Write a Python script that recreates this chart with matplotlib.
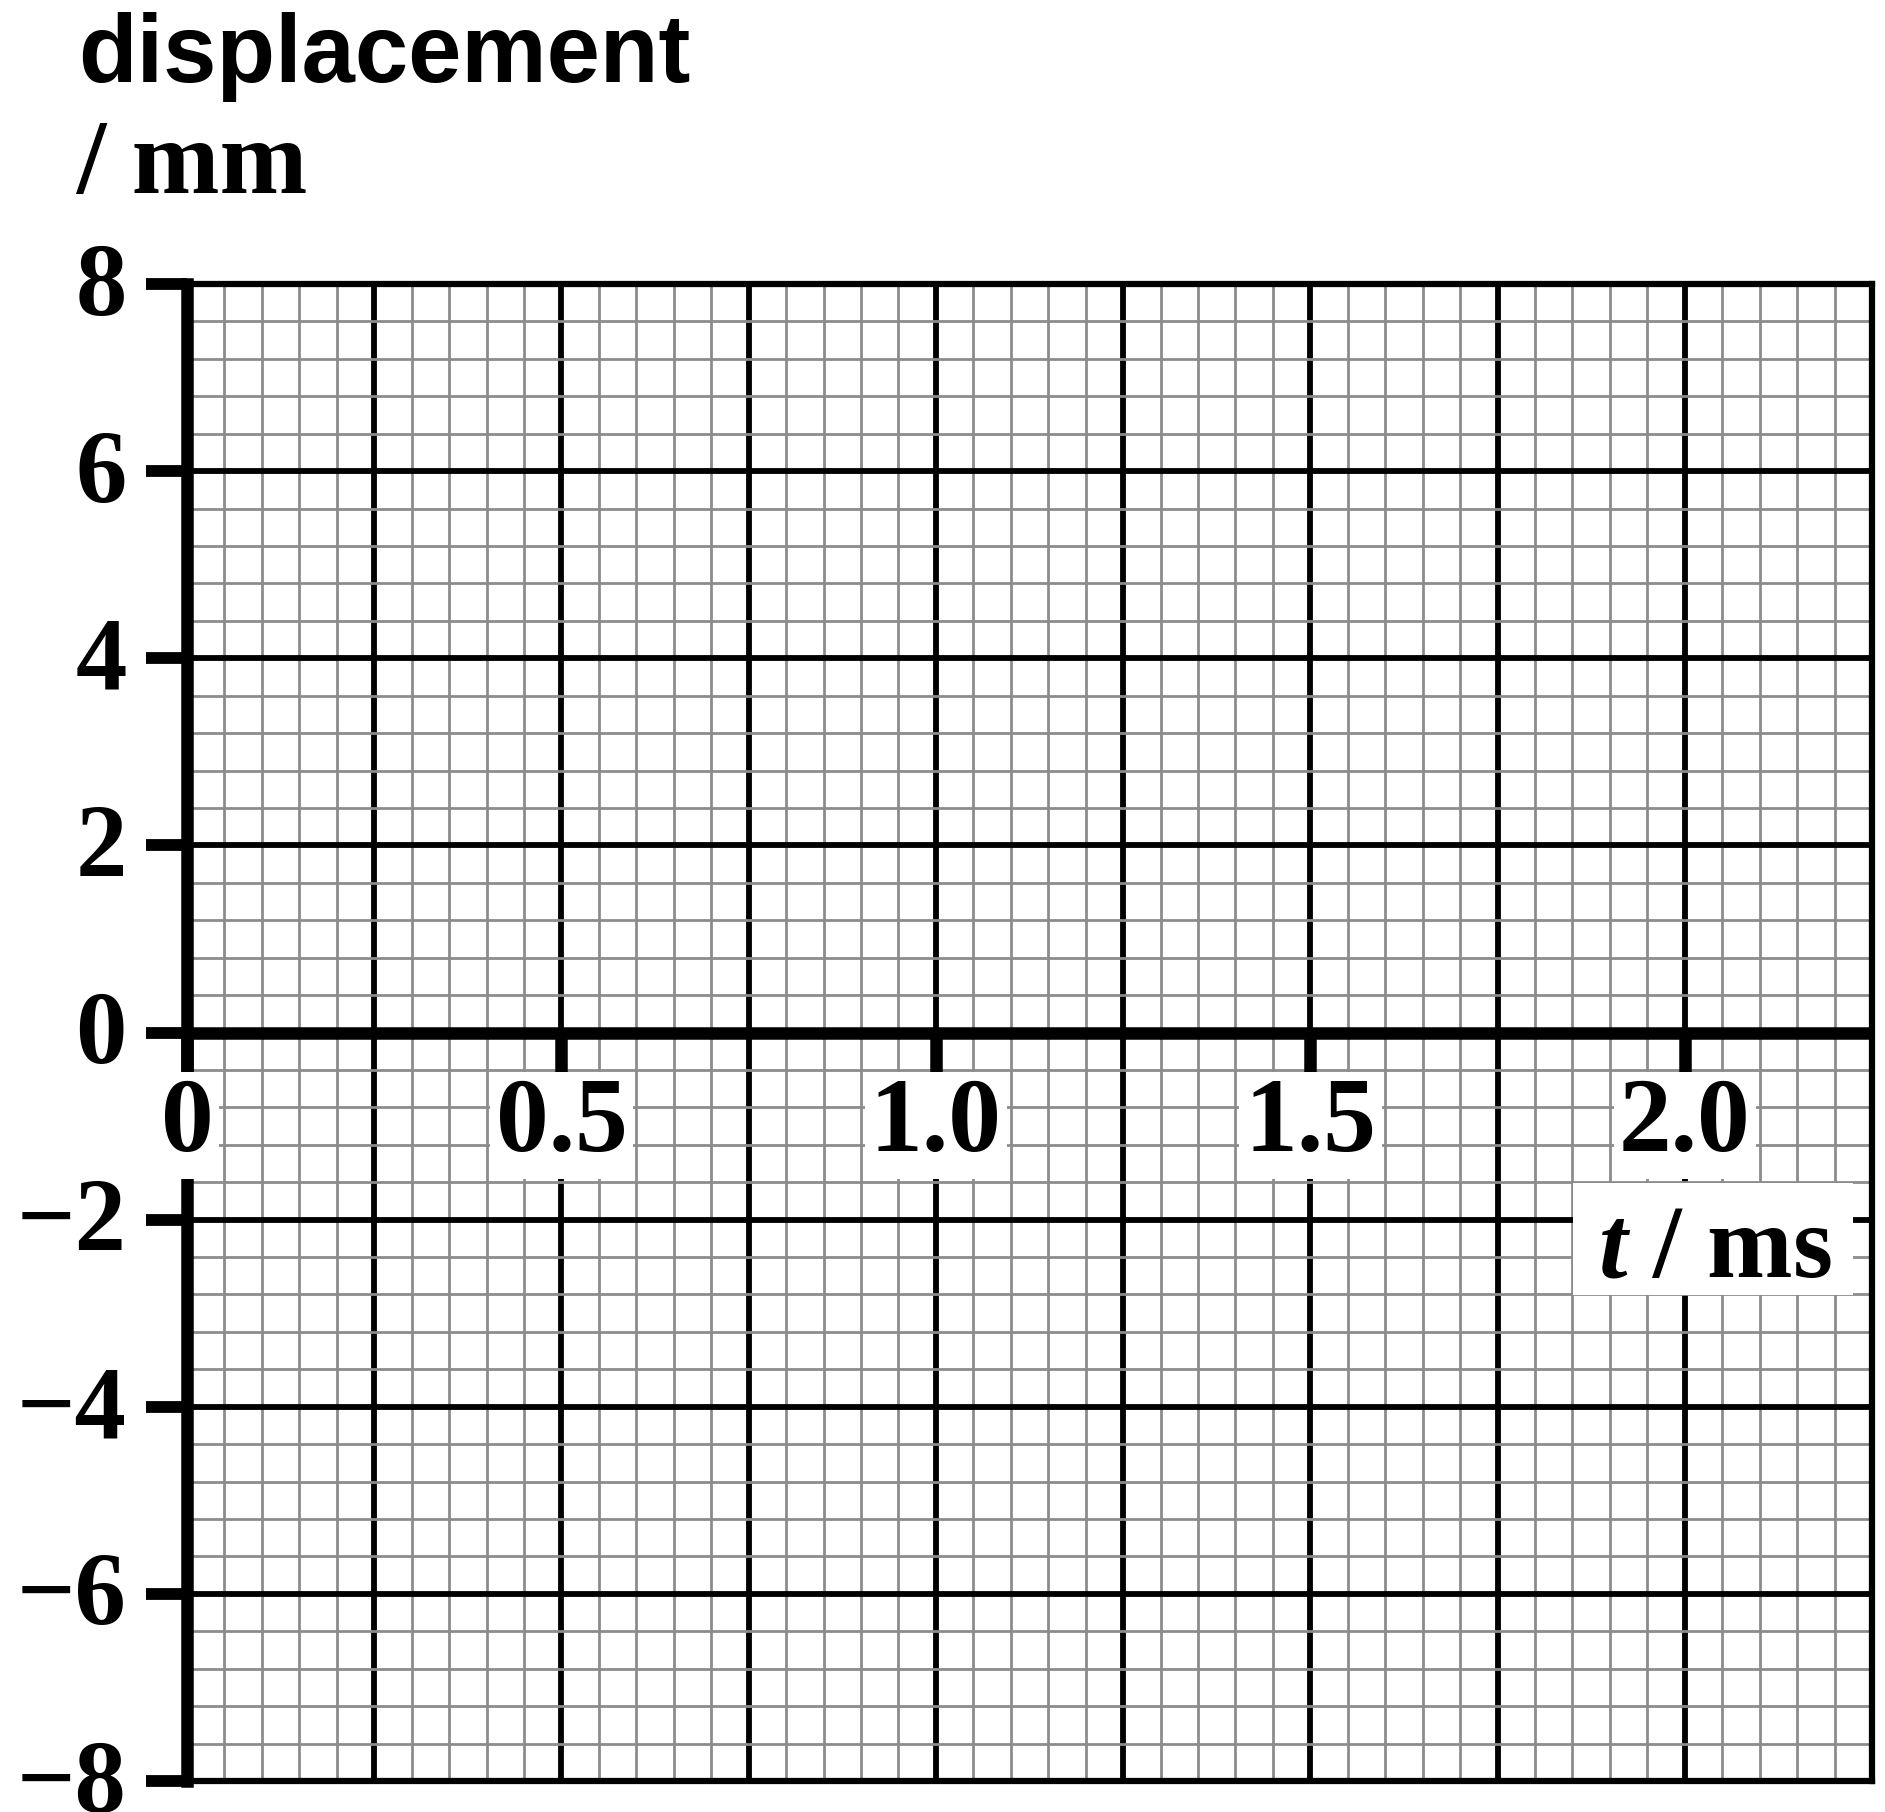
import matplotlib
matplotlib.use("Agg")
import matplotlib.pyplot as plt
import matplotlib.transforms as mtransforms
from matplotlib.patches import Rectangle
from matplotlib.ticker import MultipleLocator

# Axis values
x_ticks = [0, 0.5, 1.0, 1.5, 2.0]
x_labels = ['0', '0.5', '1.0', '1.5', '2.0']
y_ticks = [-8, -6, -4, -2, 0, 2, 4, 6, 8]
y_labels = ['\u22128', '\u22126', '\u22124', '\u22122', '0', '2', '4', '6', '8']
x_range = (0, 2.25)
y_range = (-8, 8)

plt.rcParams['mathtext.fontset'] = 'custom'
plt.rcParams['mathtext.rm'] = 'Liberation Serif:bold'
plt.rcParams['mathtext.it'] = 'Liberation Serif:italic:bold'
plt.rcParams['mathtext.bf'] = 'Liberation Serif:bold'

W, H = 1885, 1812
fig = plt.figure(figsize=(W / 100, H / 100), dpi=100)

# axes box in pixels: left 187, right 1872, top 284, bottom 1781
ax = fig.add_axes([187 / W, 1 - 1781 / H, (1872 - 187) / W, (1781 - 284) / H])
ax.set_xlim(*x_range)
ax.set_ylim(*y_range)

# graph paper grid
ax.xaxis.set_major_locator(MultipleLocator(0.25))
ax.xaxis.set_minor_locator(MultipleLocator(0.05))
ax.set_yticks(y_ticks, y_labels)
ax.yaxis.set_minor_locator(MultipleLocator(0.4))
ax.set_axisbelow(True)
ax.grid(which='minor', color='#8c8c8c', lw=2.0)
ax.grid(which='major', color='black', lw=4.2)

ax.tick_params(axis='x', which='both', length=0, labelbottom=False)
ax.tick_params(axis='y', which='minor', length=0)
ax.tick_params(axis='y', which='major', length=29.5, width=8.5, pad=14,
               direction='out', color='black')
shift = mtransforms.ScaledTranslation(0, -4 / 72, fig.dpi_scale_trans)
for lbl in ax.get_yticklabels():
    lbl.set_fontfamily('Liberation Serif')
    lbl.set_fontweight('bold')
    lbl.set_fontsize(74)
    lbl.set_verticalalignment('center')
    lbl.set_transform(lbl.get_transform() + shift)

for side in ['top', 'right', 'bottom']:
    ax.spines[side].set_linewidth(4.5)
ax.spines['left'].set_linewidth(9)

# zero line and its ticks
ax.axhline(0, color='black', lw=9, zorder=2.6)
ax.plot(x_ticks, [0] * len(x_ticks), ls='none', marker=3, ms=29, mew=9,
        color='black', zorder=2.7, clip_on=False)

# x tick labels with white boxes over the grid
for xv, lab in zip(x_ticks, x_labels):
    ax.annotate(lab, (xv, 0), xytext=(0, -67), textcoords='offset points',
                ha='center', va='center', fontsize=76, fontweight='bold',
                fontfamily='Liberation Serif', zorder=5, annotation_clip=False,
                bbox=dict(boxstyle='square,pad=0.05', facecolor='white',
                          edgecolor='none'))

# x axis title on a white patch
fig.patches.append(Rectangle((1573 / W, 1 - 1295 / H), (1853 - 1573) / W,
                             (1295 - 1183) / H, transform=fig.transFigure,
                             facecolor='white', edgecolor='none', zorder=4))
fig.text(1715 / W, 1 - 1277 / H, r'$t$ / ms', ha='center', va='baseline',
         fontsize=74, fontweight='bold', fontfamily='Liberation Serif',
         zorder=5)

fig.text(78 / W, 1 - 82 / H, 'displacement', ha='left', va='baseline',
         fontsize=69, fontweight='bold', fontfamily='Liberation Sans')
fig.text(76 / W, 1 - 193 / H, '/ mm', ha='left', va='baseline',
         fontsize=76, fontweight='bold', fontfamily='Liberation Serif')

fig.savefig('out.png', dpi=100, facecolor='white')
